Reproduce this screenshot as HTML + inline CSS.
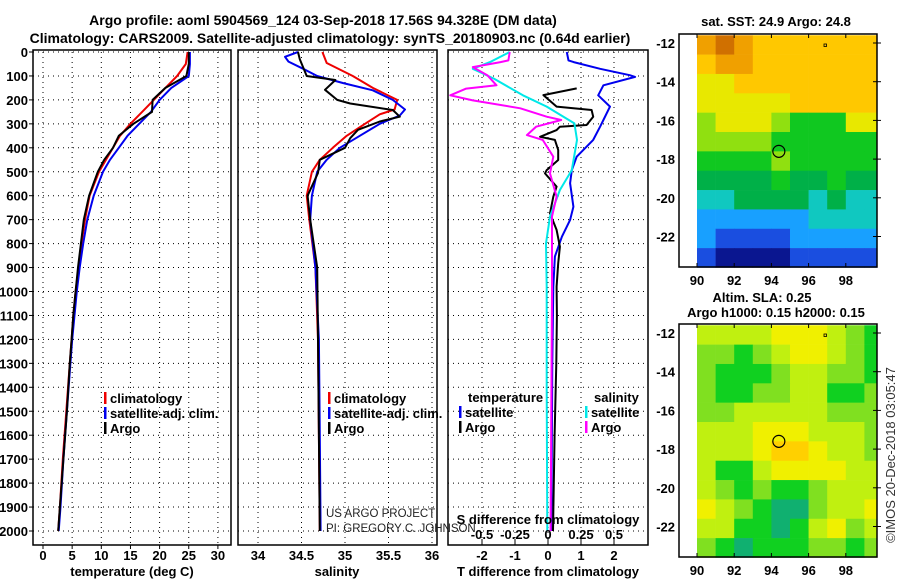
<!DOCTYPE html>
<html><head><meta charset="utf-8">
<style>
html,body{margin:0;padding:0;background:#fff;}
svg{display:block;font-family:"Liberation Sans",Arial,sans-serif;}
.t{font-weight:bold;font-size:13px;fill:#000;}
.n{font-size:11.5px;fill:#222;}
</style></head>
<body>
<svg id="fig" width="900" height="580" viewBox="0 0 900 580" xmlns="http://www.w3.org/2000/svg">
<text class="t" x="323" y="25" text-anchor="middle" style="font-size:14px">Argo profile: aoml 5904569_124 03-Sep-2018 17.56S 94.328E (DM data)</text>
<text class="t" x="330" y="43" text-anchor="middle" style="font-size:14px">Climatology: CARS2009. Satellite-adjusted climatology: synTS_20180903.nc (0.64d earlier)</text>
<g id="plots"></g>
</svg>
<script>
// ---------- data ----------
const depthTicks=[0,100,200,300,400,500,600,700,800,900,1000,1100,1200,1300,1400,1500,1600,1700,1800,1900,2000];
const tempTicks=[0,5,10,15,20,25,30];
const salTicks=[34,34.5,35,35.5,36];
const salTickLabels=["34","34.5","35","35.5","36"];
const tdiffTicks=[-2,-1,0,1,2];
const sdiffTicks=[-0.5,-0.25,0,0.25,0.5];
const sdiffTickLabels=["-0.5","-0.25","0","0.25","0.5"];

const tDepth=[0,50,100,150,200,250,300,350,400,450,500,600,700,800,900,1000,1100,1200,1300,1500,1700,1900,2000];
const tArgo=[25,25,24.6,21,18.8,18.7,15.5,13,12,10.5,9.4,7.9,7,6.5,6,5.6,5.2,4.9,4.6,4.1,3.5,2.9,2.6];
const tClim=[24.8,24.5,23,21,19,17,15,13.2,12,10.8,9.6,8,7.2,6.6,6.1,5.6,5.2,4.9,4.6,4.0,3.4,2.9,2.6];
const tSat=[25.2,25.2,25,22,20,18.5,16.5,14.5,13,11.5,10.3,8.7,7.6,6.9,6.3,5.8,5.4,5.0,4.7,4.1,3.5,3.0,2.7];

const sArgoDepth=[0,30,100,117,158,200,215,242,270,290,325,360,400,450,505,600,700,900,1200,1600,2000];
const sArgo=[34.46,34.48,34.56,34.89,34.77,34.91,35.06,35.55,35.63,35.4,35.15,35.06,35.0,34.71,34.69,34.57,34.6,34.68,34.69,34.7,34.71];
const sClimDepth=[0,46,100,150,200,240,260,300,350,400,450,500,600,700,900,1200,1600,2000];
const sClim=[34.74,34.79,35.09,35.32,35.6,35.57,35.4,35.23,35.02,34.86,34.71,34.62,34.56,34.59,34.66,34.69,34.7,34.71];
const sSatDepth=[0,20,40,70,100,130,160,200,240,265,300,350,400,450,500,600,700,900,1200,1600,2000];
const sSat=[34.46,34.31,34.35,34.52,34.68,34.98,35.32,35.55,35.69,35.63,35.4,35.17,34.94,34.79,34.68,34.62,34.6,34.66,34.7,34.71,34.72];

const dTArgoDepth=[152,180,228,242,270,305,312,326,354,367,409,451,493,507,562,604,674,743,813,882,980,1100,1300,1600,2000];
const dTArgo=[0.87,-0.14,0.26,1.32,1.37,1.17,0.36,0.26,-0.24,0.21,0.31,0.31,-0.04,-0.09,0.26,0.16,0.06,0.26,0.36,0.31,0.26,0.27,0.25,0.2,0.15];
const dTSatDepth=[0,35,42,70,97,104,139,181,228,284,312,367,437,493,548,646,701,771,854,980,1300,2000];
const dTSat=[0.57,0.62,0.78,1.58,2.48,2.64,1.68,1.52,1.88,1.68,1.58,1.37,0.87,0.72,0.67,0.77,0.67,0.42,0.21,0.16,0.13,0.1];
const dSSatDepth=[0,42,70,111,181,228,298,367,493,576,687,799,980,1400,2000];
const dSSat=[-0.29,-0.44,-0.57,-0.41,-0.19,-0.01,0.2,0.22,0.18,0.09,0.015,-0.015,-0.01,-0.01,-0.005];
const dSArgoDepth=[0,35,42,63,97,139,153,181,202,235,270,284,312,347,367,437,507,604,687,1000,1500,2000];
const dSArgo=[-0.29,-0.3,-0.36,-0.57,-0.46,-0.39,-0.62,-0.74,-0.57,-0.21,-0.01,0.1,-0.09,-0.16,-0.04,0.04,0.015,0.065,0.03,0.03,0.025,0.02];

const lonTicks=[90,92,94,96,98];
const latTicks=[-12,-14,-16,-18,-20,-22];
const sstColors=["#0a1690","#1a4ee0","#18a0ff","#10c8c0","#00b048","#10c820","#90e010","#e8e800","#ffc800","#f0a000","#d07000"];
const sstGrid=[
[9,10,9,8,8,8,8,8,8,8],
[8,9,9,8,8,8,8,8,8,8],
[7,7,8,8,8,8,8,8,8,8],
[7,7,7,7,7,8,8,8,8,8],
[6,7,7,7,6,5,5,5,7,7],
[6,6,6,6,5,5,5,5,5,5],
[5,5,5,5,6,5,5,5,5,5],
[4,4,4,4,5,4,4,5,4,4],
[3,3,4,4,4,4,3,4,3,3],
[2,2,2,2,2,2,3,3,3,3],
[2,1,1,1,1,2,2,2,2,2],
[1,0,0,0,0,1,1,1,1,1]];
const slaColors=["#10b070","#10d020","#80e020","#c0f010","#f0f000","#ffd000"];
const slaGrid=[
[3,3,3,3,4,4,4,3,2,1],
[2,2,1,2,3,4,4,3,2,1],
[2,1,1,1,2,3,3,2,2,1],
[2,1,1,2,2,3,3,1,1,2],
[2,2,3,3,3,3,3,2,2,2],
[3,3,3,4,4,4,3,3,3,2],
[3,3,3,4,5,5,4,3,3,2],
[3,1,1,3,4,4,4,4,3,3],
[3,2,1,2,1,1,2,3,3,3],
[4,3,2,1,0,0,2,3,3,4],
[3,3,1,1,0,1,3,4,2,3],
[2,1,0,1,1,1,2,2,1,2]];
const floatLon=94.4, floatLat=-17.6;

// ---------- drawing ----------
const NS="http://www.w3.org/2000/svg";
const root=document.getElementById('plots');
function mk(tag,attrs,parent,txt){const e=document.createElementNS(NS,tag);for(const k in attrs)e.setAttribute(k,attrs[k]);if(txt!==undefined)e.textContent=txt;(parent||root).appendChild(e);return e;}
const top0=52, bot=545;
const yD=d=>top0+d*0.2395;
const panels=[
 {name:'temperature',x0:33,x1:231,sx:v=>43+v*5.83},
 {name:'salinity',x0:238,x1:437,sx:v=>345+(v-35)*87},
 {name:'difference',x0:448,x1:648,sx:v=>548+v*33}
];
const sS=v=>548+v*4*33;
function grid(p,xs){
 const g=mk('g',{});
 
 
 depthTicks.forEach(d=>{mk('line',{x1:p.x0,x2:p.x1,y1:yD(d),y2:yD(d),stroke:'#000','stroke-width':1,'stroke-dasharray':'1,4'},g);});
 xs.forEach(x=>{mk('line',{x1:x,x2:x,y1:top0,y2:bot,stroke:'#000','stroke-width':1,'stroke-dasharray':'1,4'},g);});
}
function line(depths,vals,fx,color,name){
 const pts=depths.map((d,i)=>fx(vals[i]).toFixed(1)+','+yD(d).toFixed(1)).join(' ');
 const e=mk('polyline',{points:pts,fill:'none',stroke:color,'stroke-width':2,'stroke-linejoin':'round'});
 
 
}
function frame(p){
 const r=mk('rect',{x:p.x0,y:top0-2,width:p.x1-p.x0,height:bot-top0+2,fill:'none',stroke:'#000','stroke-width':1.5});
 
 
}
// panel 1
let p=panels[0];
grid(p,tempTicks.map(p.sx));
line(tDepth,tClim,p.sx,'#ee0000','temp-climatology-line');
line(tDepth,tSat,p.sx,'#0000ee','temp-satellite-line');
line(tDepth,tArgo,p.sx,'#000','temp-argo-line');
frame(p);
depthTicks.forEach(d=>{const t=mk('text',{class:'t',x:28,y:yD(d)+5,'text-anchor':'end'},root,String(d));
 
 
 mk('line',{x1:p.x0-4,x2:p.x0,y1:yD(d),y2:yD(d),stroke:'#000'});});
tempTicks.forEach(v=>{const t=mk('text',{class:'t',x:p.sx(v),y:560,'text-anchor':'middle'},root,String(v));
 
 
 mk('line',{x1:p.sx(v),x2:p.sx(v),y1:bot,y2:bot+4,stroke:'#000'});});
let tt=mk('text',{class:'t',x:132,y:576,'text-anchor':'middle'},root,'temperature (deg C)');


function legend(x,y,items,name){
 const g=mk('g',{});
 
 
 items.forEach((it,i)=>{mk('rect',{x:x,y:y+i*15-6,width:2.5,height:12,fill:it[1]},g);mk('text',{class:'t',x:x+6,y:y+i*15+5},g,it[0]);});
}
legend(104,398,[['climatology','#ee0000'],['satellite-adj. clim.','#0000ee'],['Argo','#000']],'temperature-legend');

// panel 2
p=panels[1];
grid(p,salTicks.map(p.sx));
line(sClimDepth,sClim,p.sx,'#ee0000','sal-climatology-line');
line(sSatDepth,sSat,p.sx,'#0000ee','sal-satellite-line');
line(sArgoDepth,sArgo,p.sx,'#000','sal-argo-line');
frame(p);
salTicks.forEach((v,i)=>{const t=mk('text',{class:'t',x:p.sx(v),y:560,'text-anchor':'middle'},root,salTickLabels[i]);
 
 });
tt=mk('text',{class:'t',x:337,y:576,'text-anchor':'middle'},root,'salinity');

legend(328,398,[['climatology','#ee0000'],['satellite-adj. clim.','#0000ee'],['Argo','#000']],'salinity-legend');

// panel 3
p=panels[2];
grid(p,tdiffTicks.map(p.sx));
line(dTSatDepth,dTSat,p.sx,'#0000ee','tdiff-satellite-line');
line(dTArgoDepth,dTArgo,p.sx,'#000','tdiff-argo-line');
line(dSSatDepth,dSSat,sS,'#00e8e8','sdiff-satellite-line');
line(dSArgoDepth,dSArgo,sS,'#ff00ff','sdiff-argo-line');
frame(p);
tdiffTicks.forEach(v=>{const t=mk('text',{class:'t',x:p.sx(v),y:560,'text-anchor':'middle'},root,String(v));
 
 });
sdiffTicks.forEach((v,i)=>{const t=mk('text',{class:'t',x:sS(v),y:539,'text-anchor':'middle'},root,sdiffTickLabels[i]);
 
 
 mk('line',{x1:sS(v),x2:sS(v),y1:bot-6,y2:bot,stroke:'#000'});});
tt=mk('text',{class:'t',x:548,y:524,'text-anchor':'middle'},root,'S difference from climatology');

tt=mk('text',{class:'t',x:548,y:576,'text-anchor':'middle'},root,'T difference from climatology');

mk('text',{class:'t',x:468,y:402},root,'temperature');
mk('text',{class:'t',x:594,y:402},root,'salinity');
legend(459,412,[['satellite','#0000ee'],['Argo','#000']],'tdiff-legend');
legend(585,412,[['satellite','#00e8e8'],['Argo','#ff00ff']],'sdiff-legend');
tt=mk('text',{class:'n',x:326,y:517},root,'US ARGO PROJECT');

tt=mk('text',{class:'n',x:326,y:532},root,'PI: GREGORY C. JOHNSON');


// maps
function map(y0,grid,colors,name){
 const lx=lon=>697+(lon-90)*18.6;
 const ly=lat=>y0+43+(-12-lat)*19.35;
 const g=mk('g',{});
 
 
 grid.forEach((row,r)=>row.forEach((v,c)=>{
  const x=lx(90+c), y=ly(-11.6-r);
  const w=Math.min(lx(91+c),877)-x;
  const cell=mk('rect',{x:x,y:y,width:w+0.3,height:ly(-12.6-r)-y+0.3,fill:colors[v]},g);
  
  
 }));
 mk('rect',{x:679,y:y0+34,width:198,height:233,fill:'none',stroke:'#000','stroke-width':1.5},g);
 lonTicks.forEach(v=>{mk('line',{x1:lx(v),x2:lx(v),y1:y0+34,y2:y0+38,stroke:'#000'},g);mk('line',{x1:lx(v),x2:lx(v),y1:y0+263,y2:y0+267,stroke:'#000'},g);
  mk('text',{class:'t',x:lx(v),y:y0+285,'text-anchor':'middle'},g,String(v));});
 latTicks.forEach(v=>{mk('line',{x1:873,x2:877,y1:ly(v),y2:ly(v),stroke:'#000'},g);mk('line',{x1:877,x2:881,y1:ly(v),y2:ly(v),stroke:'#000'},g);
  mk('text',{class:'t',x:675,y:ly(v)+5,'text-anchor':'end'},g,String(v));});
 mk('circle',{cx:lx(floatLon),cy:ly(floatLat),r:6,fill:'none',stroke:'#000','stroke-width':1.2},g);
 mk('rect',{x:824,y:y0+44,width:2.5,height:2.5,fill:'none',stroke:'#000','stroke-width':0.8},g);
}
map(0,sstGrid,sstColors,'sst-map');
map(290,slaGrid,slaColors,'sla-map');
tt=mk('text',{class:'t',x:776,y:26,'text-anchor':'middle'},root,'sat. SST: 24.9 Argo: 24.8');

tt=mk('text',{class:'t',x:762,y:302,'text-anchor':'middle'},root,'Altim. SLA: 0.25');

tt=mk('text',{class:'t',x:776,y:317,'text-anchor':'middle'},root,'Argo h1000: 0.15 h2000: 0.15');

tt=mk('text',{x:895,y:455,'text-anchor':'middle',transform:'rotate(-90 895 455)','font-size':'13','fill':'#333'},root,'©IMOS 20-Dec-2018 03:05:47');

</script>
</body></html>
